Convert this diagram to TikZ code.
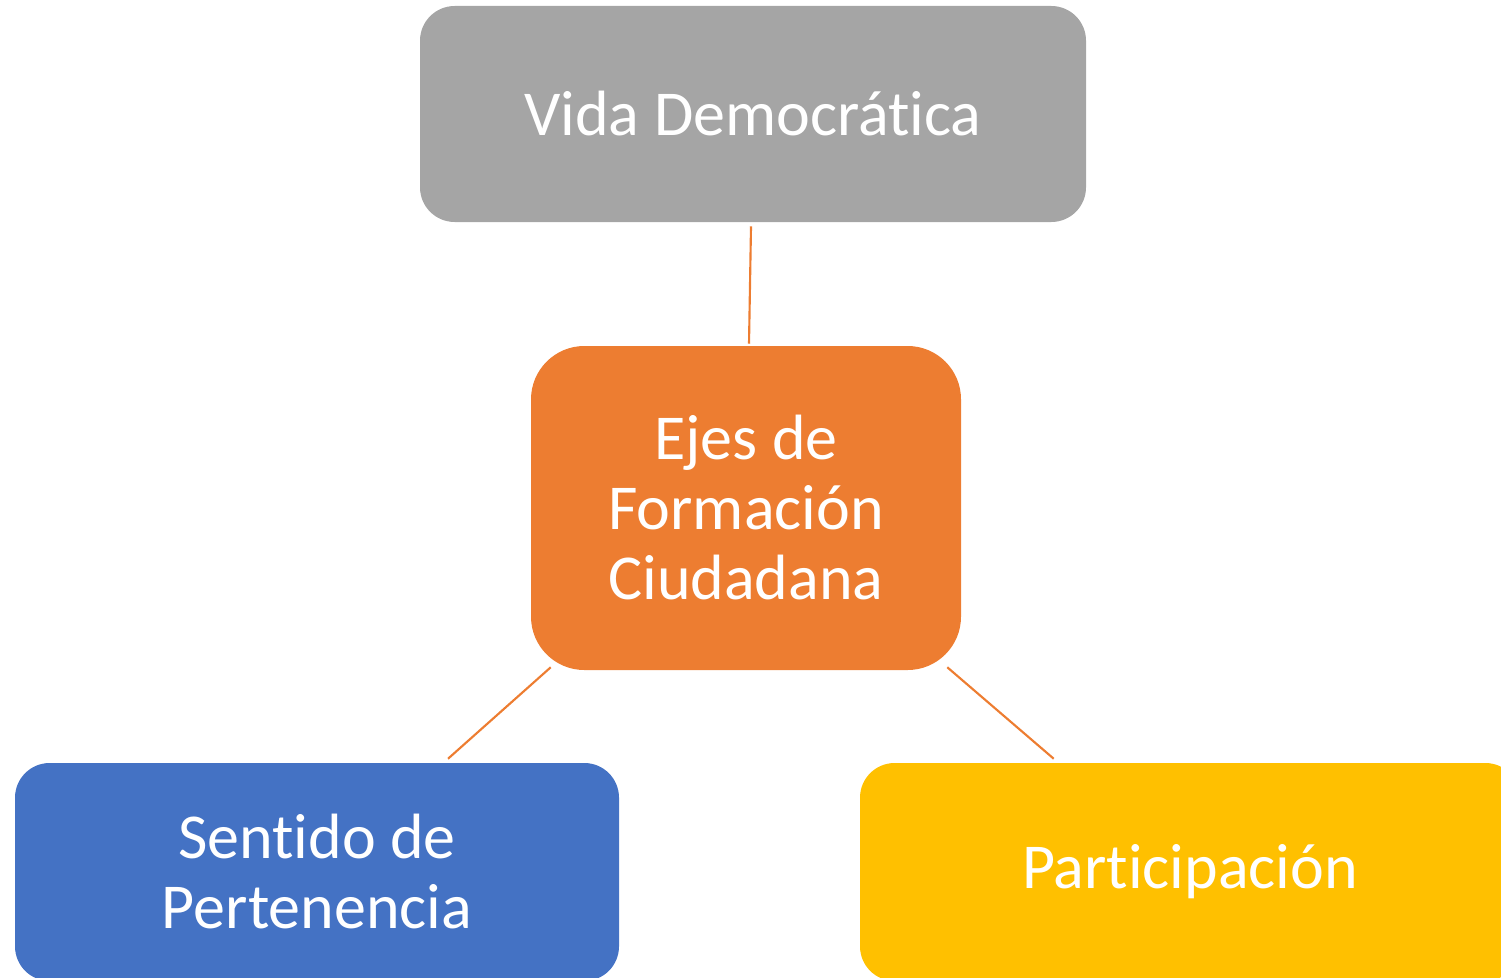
\documentclass[tikz,border=0pt]{standalone}
\usepackage{fontspec}
\setmainfont[Ligatures={NoCommon,NoRequired,NoContextual}]{Carlito}
\usetikzlibrary{calc}
\newcommand\nolig{\kern0pt{}}
\definecolor{cgray}{HTML}{A5A5A5}
\definecolor{corange}{HTML}{ED7D31}
\definecolor{cblue}{HTML}{4472C4}
\definecolor{cyellow}{HTML}{FFC000}
\begin{document}
\begin{tikzpicture}[x=0.75pt,y=-0.75pt,
  box/.style={draw=none,text=white,align=center,inner sep=0pt,
    font=\fontsize{48}{52.5}\selectfont},
  link/.style={draw=corange,line width=1.6pt}]
\useasboundingbox (0,0) rectangle (1501,977);
\node[box,fill=cgray,rounded corners=26pt,minimum width=666*0.75pt,minimum height=216*0.75pt] (vida) at (753,114) {Vida Democrát\nolig ica};
\node[box,fill=corange,rounded corners=40pt,minimum width=430*0.75pt,minimum height=324*0.75pt] (ejes) at (746,508) {Ejes de\\Formación\\Ciudadana};
\node[box,fill=cblue,rounded corners=26pt,minimum width=604*0.75pt,minimum height=218*0.75pt] (sent) at (317,872) {Sent\nolig ido de\\Pertenencia};
\node[box,fill=cyellow,rounded corners=26pt,minimum width=660*0.75pt,minimum height=218*0.75pt] (part) at (1190,872) {Part\nolig icipación};
\coordinate (a1) at ($(vida.south)+(-2,4)$);
\coordinate (a2) at ($(ejes.north)+(3,-2)$);
\coordinate (b1) at ($(ejes.south west)+(20,-3)$);
\coordinate (b2) at ($(sent.north)+(131,-4)$);
\coordinate (c1) at ($(ejes.south east)+(-14,-3)$);
\coordinate (c2) at ($(part.north west)+(194,-4)$);
\draw[link] (a1) -- (a2);
\draw[link] (b1) -- (b2);
\draw[link] (c1) -- (c2);
\end{tikzpicture}
\end{document}
